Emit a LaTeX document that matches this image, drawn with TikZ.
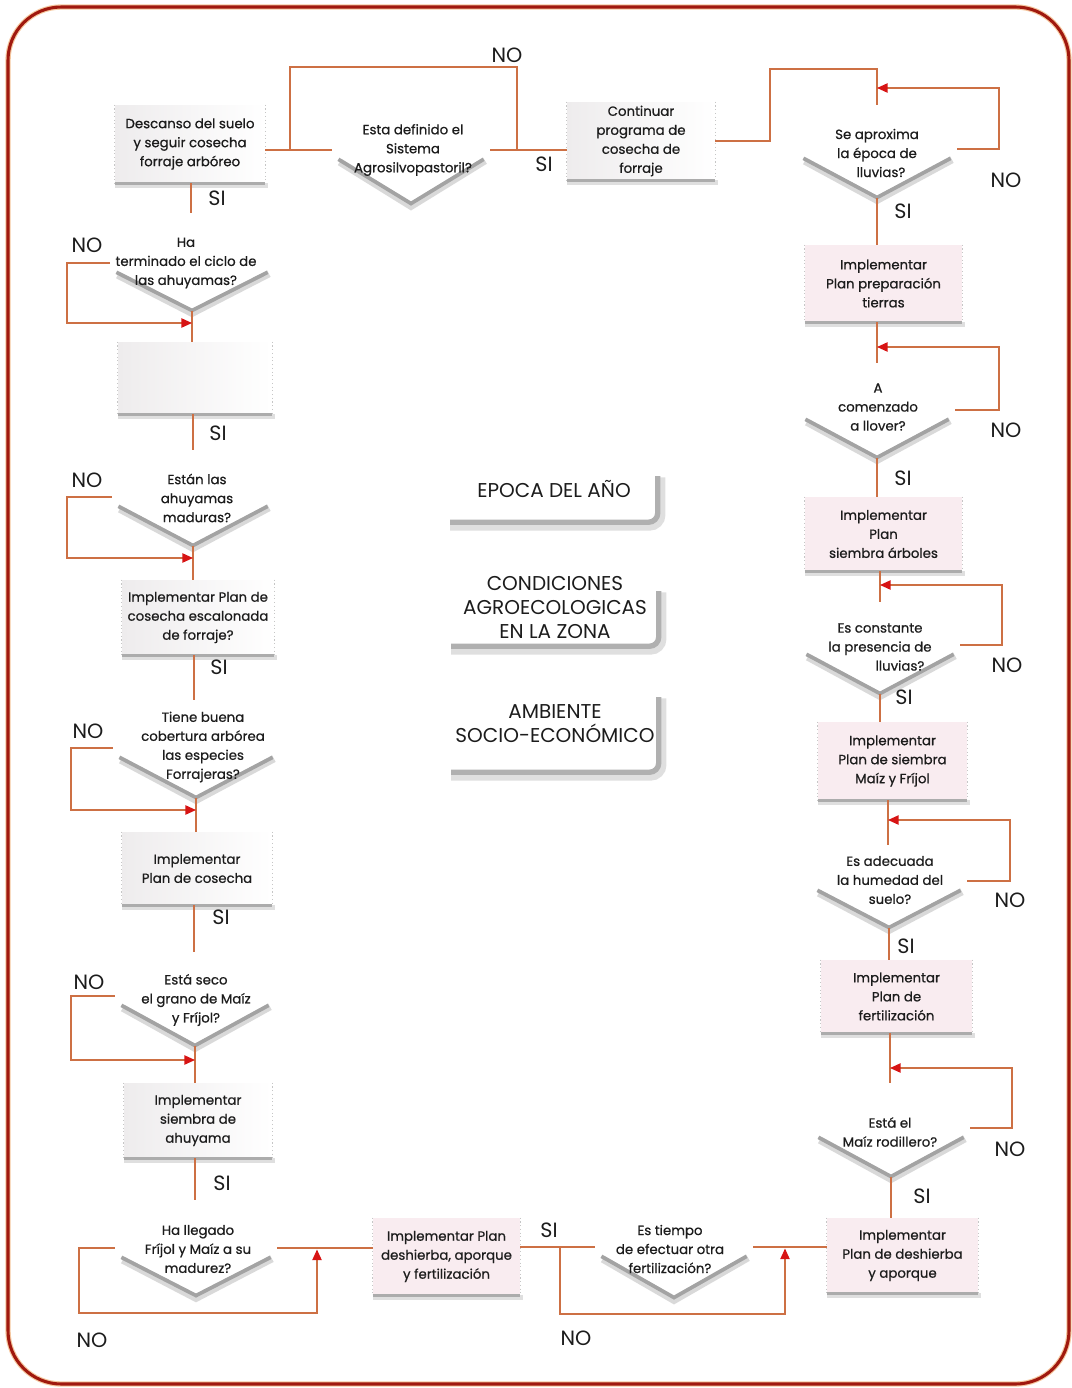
\documentclass[tikz,border=0pt]{standalone}
\usepackage{fontspec}
\setmainfont{Poppins}
\newfontfamily\inkfont{Poppins}[FakeBold=0.7]
\usetikzlibrary{arrows.meta}
\definecolor{framered}{RGB}{160,25,15}
\definecolor{framehalo}{RGB}{245,200,160}
\definecolor{connector}{RGB}{205,112,68}
\definecolor{tipred}{RGB}{215,20,20}
\definecolor{inktext}{RGB}{28,28,28}
\definecolor{pinkfill}{RGB}{249,236,240}
\definecolor{greyfill}{RGB}{238,236,237}
\newcommand\bxfont{\inkfont\fontsize{10}{14.25}\selectfont}
\newcommand\ansfont{\fontsize{15.5}{18}\selectfont}
\newcommand\cenfont{\fontsize{15}{18}\selectfont}
\tikzset{
  frame/.style={draw=framered, line width=2.3pt, rounded corners=40pt},
  framehaze/.style={draw=framehalo, line width=4pt, rounded corners=40pt},
  conn/.style={draw=connector, line width=1.1pt},
  loopback/.style={conn, -{Triangle[length=8pt,width=7pt,color=tipred]}},
  actbox/.style 2 args={minimum width=#1, minimum height=#2, inner sep=0pt,
    align=center, font=\bxfont, text=inktext},
  lbox/.style={left color=greyfill, right color=white},
  rbox/.style={fill=pinkfill},
  boxbase/.style={draw=gray!65, line width=2pt},
  boxbasehaze/.style={draw=gray!25, line width=3.5pt},
  boxside/.style={draw=gray!45, line width=0.8pt, dotted},
  decision/.style 2 args={minimum width=#1, minimum height=#2, inner sep=0pt,
    anchor=north},
  dtext/.style={align=center, font=\bxfont, text=inktext, inner sep=0pt},
  vline/.style={draw=gray!72, line width=2.8pt},
  vhaze/.style={draw=gray!30, line width=5.5pt},
  answer/.style={font=\ansfont, text=inktext, inner sep=0pt},
  cbox/.style 2 args={minimum width=#1, minimum height=#2, inner sep=0pt,
    align=center, font=\cenfont, text=inktext},
  cshade/.style={draw=gray!62, line width=4pt, rounded corners=7pt},
  cshadehaze/.style={draw=gray!25, line width=7.5pt, rounded corners=8pt},
}
\begin{document}
\begin{tikzpicture}[x=0.75pt,y=-0.75pt]
\useasboundingbox (0,0) rectangle (1071,1388);

% outer frame
\draw[framehaze] (8,7) rectangle (1069,1384);
\draw[frame] (8,7) rectangle (1069,1384);

% ---------- decision triangles ----------
\node[decision={118.5pt}{39.75pt}] (d0) at (411,150) {};
\node[decision={120pt}{36pt}]     (d1) at (877,149) {};
\node[decision={117pt}{35.25pt}]  (d2) at (877,410) {};
\node[decision={120pt}{36pt}]     (d3) at (880,645) {};
\node[decision={117pt}{34.5pt}]   (d4) at (889,881) {};
\node[decision={118.5pt}{36pt}]   (d5) at (891,1128) {};
\node[decision={118.5pt}{37.5pt}] (d6) at (674,1247) {};
\node[decision={121.5pt}{35.25pt}](d7) at (196,1248) {};
\node[decision={120pt}{36.75pt}]  (d8) at (195,996) {};
\node[decision={124.5pt}{36.75pt}](d9) at (196,748) {};
\node[decision={121.5pt}{36pt}]   (d10) at (193,497) {};
\node[decision={123pt}{35.25pt}]  (d11) at (192,263) {};

\foreach \d in {d0,d1,d2,d3,d4,d5,d6,d7,d8,d9,d10,d11}{
  \draw[vhaze] ([xshift=6pt,yshift=-9pt]\d.north west) -- ([yshift=-2pt]\d.south)
               -- ([xshift=-4pt,yshift=-8pt]\d.north east);
  \draw[vline] ([xshift=5pt,yshift=-7pt]\d.north west) -- (\d.south)
               -- ([xshift=-5pt,yshift=-7pt]\d.north east);
}

% ---------- action boxes ----------
\node[actbox={112.5pt}{58.5pt}, lbox] (bA) at (190,144)
  {Descanso del suelo\\y seguir cosecha\\forraje arbóreo};
\node[actbox={111pt}{58.5pt}, lbox] (bC) at (641,141)
  {Continuar\\programa de\\cosecha de\\forraje};
\node[actbox={117.75pt}{57.75pt}, rbox] (bE) at (883.5,283.5)
  {Implementar\\Plan preparación\\tierras};
\node[actbox={117.75pt}{55.5pt}, rbox] (bF) at (883.5,534)
  {Implementar\\Plan\\siembra árboles};
\node[actbox={111.75pt}{58.5pt}, rbox] (bG) at (892.5,761)
  {Implementar\\Plan de siembra\\Maíz y Fríjol};
\node[actbox={113.25pt}{54.75pt}, rbox] (bH) at (896.5,996.5)
  {Implementar\\Plan de\\fertilización};
\node[actbox={113.25pt}{56.25pt}, rbox] (bI) at (902.5,1255.5)
  {Implementar\\Plan de deshierba\\y aporque};
\node[actbox={110.25pt}{57.75pt}, rbox] (bJ) at (446.5,1256.5)
  {Implementar Plan\\deshierba, aporque\\y fertilización};
\node[actbox={111pt}{56.25pt}, lbox] (bK) at (198,1120.5)
  {Implementar\\siembra de\\ahuyama};
\node[actbox={112.5pt}{54.75pt}, lbox] (bL) at (197,868.5)
  {Implementar\\Plan de cosecha};
\node[actbox={114pt}{56.25pt}, lbox] (bM) at (198,617.5)
  {Implementar Plan de\\cosecha escalonada\\de forraje?};
\node[actbox={115.5pt}{54pt}, lbox] (bN) at (195,378) {};

\foreach \b in {bA,bC,bE,bF,bG,bH,bI,bJ,bK,bL,bM,bN}{
  \draw[boxside] (\b.north west) -- (\b.south west);
  \draw[boxside] (\b.north east) -- (\b.south east);
  \draw[boxbasehaze] ([yshift=-1.5pt]\b.south west) -- ([xshift=2pt,yshift=-1.5pt]\b.south east);
  \draw[boxbase] (\b.south west) -- (\b.south east);
}

% ---------- central information boxes ----------
\node[cbox={155.25pt}{50.25pt}] (c1) at (554,488.5) {EPOCA DEL AÑO};
\node[cbox={155.25pt}{57pt}] (c2) at (555,608)
  {CONDICIONES\\AGROECOLOGICAS\\EN LA ZONA};
\node[cbox={155.25pt}{72pt}] (c3) at (555,724)
  {AMBIENTE\\SOCIO-ECONÓMICO};
\foreach \c in {c1,c2,c3}{
  \draw[cshadehaze] ([xshift=2pt,yshift=-17pt]\c.north east) -- ([xshift=2pt,yshift=-2.5pt]\c.south east)
                    -- ([yshift=-2.5pt]\c.south west);
  \draw[cshade] ([yshift=-16pt]\c.north east) -- (\c.south east) -- (\c.south west);
}

% ---------- decision texts ----------
\node[dtext] (t0)  at (413,150) {Esta definido el\\Sistema\\Agrosilvopastoril?};
\node[dtext] (t1)  at (877,153) {Se aproxima\\la época de\\\hspace*{6pt}lluvias?};
\node[dtext] (t2)  at (878,407) {A\\comenzado\\a llover?};
\node[dtext] (t3)  at (880,647) {Es constante\\la presencia de\\\hspace*{30pt}lluvias?};
\node[dtext] (t4)  at (890,880) {Es adecuada\\la humedad del\\suelo?};
\node[dtext] (t5)  at (890,1132) {Está el\\Maíz rodillero?};
\node[dtext] (t6)  at (670,1249) {Es tiempo\\de efectuar otra\\fertilización?};
\node[dtext] (t7)  at (198,1249) {Ha llegado\\Fríjol y Maíz a su\\madurez?};
\node[dtext] (t8)  at (196,1000) {Está seco\\el grano de Maíz\\y Fríjol?};
\node[dtext] (t9)  at (203,747) {Tiene buena\\cobertura arbórea\\las especies\\Forrajeras?};
\node[dtext] (t10) at (197,498) {Están las\\ahuyamas\\maduras?};
\node[dtext] (t11) at (186,263) {Ha\\terminado el ciclo de\\las ahuyamas?};

% ---------- free ends of the stems ----------
\coordinate (sA) at (191,213);
\coordinate (sN) at (193,450);
\coordinate (sM) at (194,700);
\coordinate (sL) at (194,952);
\coordinate (sK) at (195,1200);
\coordinate (sC) at (877,105);
\coordinate (sE) at (877,363);
\coordinate (sF) at (880,602);
\coordinate (sG) at (888,845);
\coordinate (sH) at (890,1083);

% ---------- connectors: top row ----------
\draw[conn] (bA.east |- d0.north west) -- (d0.north west);
\draw[conn] (d0.north east) -- (d0.north east -| bC.west);
\draw[conn] (517,150) -- (517,67) -- (290,67) -- (290,150);
\draw[conn] (bC.east) -- (770,141) -- (770,69) -- (877,69) -- (sC);

% ---------- connectors: right column ----------
\draw[conn] (d1.south) -- (d1.south |- bE.north);
\draw[loopback] (d1.north east) -- (999,149) -- (999,88) -- (877,88);
\draw[conn] (bE.south -| sE) -- (sE);
\draw[loopback] (d2.north east) -- (999,410) -- (999,347) -- (877,347);
\draw[conn] (d2.south) -- (d2.south |- bF.north);
\draw[conn] (bF.south -| sF) -- (sF);
\draw[loopback] (d3.north east) -- (1002,645) -- (1002,585) -- (880,585);
\draw[conn] (d3.south) -- (d3.south |- bG.north);
\draw[conn] (bG.south -| sG) -- (sG);
\draw[loopback] (d4.north east) -- (1010,881) -- (1010,820) -- (888,820);
\draw[conn] (d4.south) -- (d4.south |- bH.north);
\draw[conn] (bH.south -| sH) -- (sH);
\draw[loopback] (d5.north east) -- (1012,1128) -- (1012,1068) -- (890,1068);
\draw[conn] (d5.south) -- (d5.south |- bI.north);

% ---------- connectors: bottom row ----------
\draw[conn] (bI.west |- d6.north east) -- (d6.north east);
\draw[conn] (bJ.east |- d6.north west) -- (d6.north west);
\draw[loopback] (560,1247) -- (560,1314) -- (785,1314) -- (785,1248.5);
\draw[conn] (bJ.west |- d7.north east) -- (d7.north east);
\draw[loopback] (d7.north west) -- (79,1248) -- (79,1313) -- (317,1313) -- (317,1249.5);

% ---------- connectors: left column ----------
\draw[conn] (bK.south -| sK) -- (sK);
\draw[conn] (d8.south) -- (d8.south |- bK.north);
\draw[loopback] (d8.north west) -- (71,996) -- (71,1060) -- (195,1060);
\draw[conn] (bL.south -| sL) -- (sL);
\draw[conn] (d9.south) -- (d9.south |- bL.north);
\draw[loopback] (d9.north west) -- (71,748) -- (71,810) -- (196,810);
\draw[conn] (bM.south -| sM) -- (sM);
\draw[conn] (d10.south) -- (d10.south |- bM.north);
\draw[loopback] (d10.north west) -- (67,497) -- (67,558) -- (193,558);
\draw[conn] (bN.south -| sN) -- (sN);
\draw[conn] (d11.south) -- (d11.south |- bN.north);
\draw[loopback] (d11.north west) -- (67,263) -- (67,323) -- (192,323);
\draw[conn] (bA.south -| sA) -- (sA);

% ---------- answer labels ----------
\node[answer] (n0)  at (507,55)   {NO};
\node[answer] (n1)  at (1006,180) {NO};
\node[answer] (n2)  at (1006,430) {NO};
\node[answer] (n3)  at (1007,665) {NO};
\node[answer] (n4)  at (1010,900) {NO};
\node[answer] (n5)  at (1010,1149){NO};
\node[answer] (n6)  at (87,245)   {NO};
\node[answer] (n7)  at (87,480)   {NO};
\node[answer] (n8)  at (88,731)   {NO};
\node[answer] (n9)  at (89,982)   {NO};
\node[answer] (n10) at (92,1340)  {NO};
\node[answer] (n11) at (576,1338) {NO};
\node[answer] (y0)  at (544,164)  {SI};
\node[answer] (y1)  at (903,211)  {SI};
\node[answer] (y2)  at (903,478)  {SI};
\node[answer] (y3)  at (904,697)  {SI};
\node[answer] (y4)  at (906,946)  {SI};
\node[answer] (y5)  at (922,1196) {SI};
\node[answer] (y6)  at (217,198)  {SI};
\node[answer] (y7)  at (218,433)  {SI};
\node[answer] (y8)  at (219,667)  {SI};
\node[answer] (y9)  at (221,917)  {SI};
\node[answer] (y10) at (222,1183) {SI};
\node[answer] (y11) at (549,1230) {SI};
\end{tikzpicture}
\end{document}
